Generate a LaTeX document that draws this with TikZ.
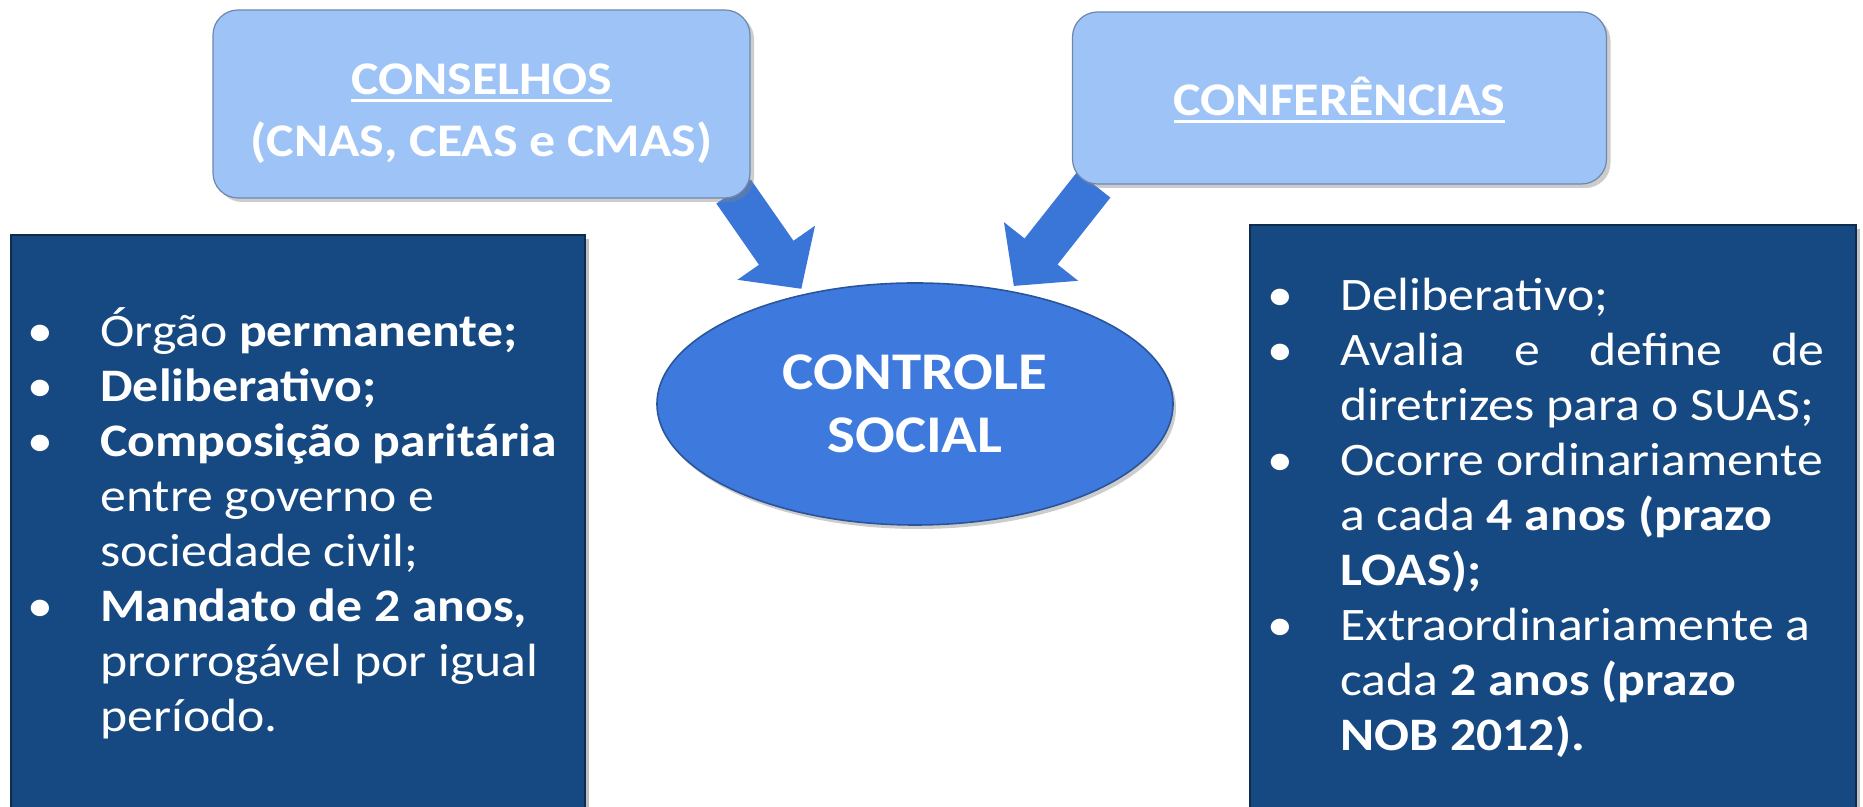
\documentclass[tikz,border=0pt]{standalone}
\usepackage{fontspec}
\setmainfont{Carlito}[FakeStretch=1.11]
\usetikzlibrary{shapes,shadows,arrows.meta,backgrounds}
\definecolor{claro}{RGB}{157,195,247}
\definecolor{escuro}{RGB}{22,73,130}
\definecolor{elipse}{RGB}{62,122,222}
\definecolor{seta}{RGB}{58,118,216}
\newcommand{\BW}{36.5pt}
\newcommand{\IT}{\makebox[\BW][l]{\textbullet}}
\newcommand{\CT}{\hspace*{\BW}}
\newcommand{\UL}[1]{\setbox0\hbox{#1}\rlap{\rule[-3.5pt]{\wd0}{1.5pt}}\box0}

\begin{document}
\begin{tikzpicture}[x=0.5pt, y=0.5pt,
  caixa/.style={rectangle, rounded corners=12.5pt, fill=claro, draw=claro!70!black,
    line width=0.6pt, drop shadow={shadow xshift=2pt, shadow yshift=-2pt, opacity=0.4}},
  titulo/.style={inner sep=0pt, text=white, align=center,
    font=\bfseries\fontsize{23.4pt}{31pt}\selectfont},
  bloco/.style={rectangle, fill=escuro, draw=escuro!60!black, line width=1pt,
    drop shadow={shadow xshift=2pt, shadow yshift=-2pt, opacity=0.5}},
  lista/.style={anchor=north west, inner sep=0pt, text=white, align=left,
    font=\fontsize{23.3pt}{27.5pt}\selectfont},
  setagrossa/.style={draw=seta, line width=21pt, shorten >=3pt,
    -{Triangle[width=46pt,length=22pt]}}]

  \useasboundingbox (0,0) rectangle (1863,807);
  \begin{scope}[on background layer]
    \fill[white] (0,0) rectangle (1863,807);
  \end{scope}

  %% caixas de cima
  \node[caixa, minimum width=268.5pt, minimum height=94pt] (cons) at (481.5,703) {};
  \node[titulo] (constxt) at ([yshift=-5pt]cons.center) {\UL{CONSELHOS}\\(CNAS, CEAS e CMAS)};
  \node[caixa, minimum width=267pt, minimum height=86pt] (conf) at (1339.5,709) {};
  \node[titulo] (conftxt) at ([yshift=-1pt]conf.center) {\UL{CONFERÊNCIAS}};

  %% centro
  \node[ellipse, fill=elipse, draw=elipse!70!black, line width=0.8pt, inner sep=0pt,
    minimum width=258pt, minimum height=121pt,
    drop shadow={shadow xshift=1.5pt, shadow yshift=-2pt, opacity=0.4},
    text=white, align=center, font=\bfseries\fontsize{26.5pt}{31.5pt}\selectfont]
    (ctrl) at (915,403) {CONTROLE\\SOCIAL};

  %% blocos escuros
  \node[bloco, minimum width=287pt, minimum height=290pt] (esq) at (298,282) {};
  \node[bloco, minimum width=303pt, minimum height=295pt] (dir) at (1553,287) {};

  \node[lista] (esqtxt) at (27,500) {%
    \IT Órgão \textbf{permanente;}\\
    \IT \textbf{Deliberativo;}\\
    \IT \textbf{Composição paritária}\\
    \CT entre governo e\\
    \CT sociedade civil;\\
    \IT \textbf{Mandato de 2 anos,}\\
    \CT prorrogável por igual\\
    \CT período.};

  \node[lista] (dirtxt) at (1267,529) {%
    \IT Deliberativo;\\
    \IT \makebox[242pt][s]{Avalia e define de}\\
    \CT diretrizes para o SUAS;\\
    \IT Ocorre ordinariamente\\
    \CT a cada \textbf{4 anos (prazo}\\
    \CT \textbf{LOAS);}\\
    \IT Extraordinariamente a\\
    \CT cada \textbf{2 anos (prazo}\\
    \CT \textbf{NOB 2012).}};

  %% setas
  \begin{scope}[on background layer]
    \draw[setagrossa] ([xshift=-8.5pt,yshift=3.5pt]cons.south east) -- (ctrl.135); %% cons->ctrl
    \draw[setagrossa] ([xshift=11pt]conf.south west) -- (ctrl.50); %% conf->ctrl
  \end{scope}

\end{tikzpicture}
\end{document}
